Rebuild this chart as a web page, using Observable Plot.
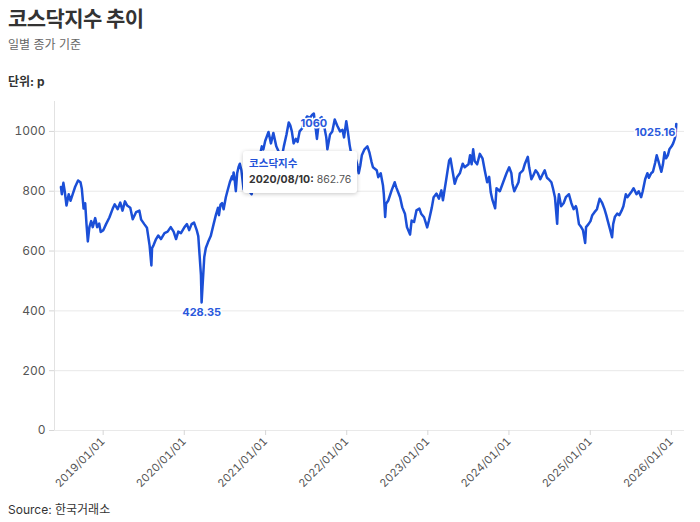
<!DOCTYPE html>
<html>
<head>
<meta charset="utf-8">
<script src="https://cdn.jsdelivr.net/npm/d3@7"></script>
<script src="https://cdn.jsdelivr.net/npm/@observablehq/plot@0.6"></script>
<style>
  html, body { margin: 0; padding: 0; background: #fff; }
  body { width: 700px; height: 522px; overflow: hidden; font-family: Inter, "Noto Sans CJK KR", sans-serif; color: #333; }
  .txt { padding-left: 8px; }
  #title { font-size: 21px; font-weight: 700; line-height: 26px; margin-top: 6px; color: #333; letter-spacing: -0.6px; }
  #subtitle { font-size: 12px; line-height: 16px; margin-top: 5px; color: #666; }
  #unit { font-size: 12px; font-weight: 700; line-height: 16px; margin-top: 21px; color: #333; }
  #chart { position: relative; height: 410px; }
  #source { font-size: 12px; line-height: 16px; margin-top: 2px; color: #333; }
  .tip { position: absolute; background: #fff; border-radius: 3px; box-shadow: 0 1px 4px rgba(0,0,0,0.22); padding: 5px 6px; white-space: nowrap; font-size: 10.5px; line-height: 16px; }
  .tip .name { color: #2251d8; font-weight: 700; }
  .tip .date { color: #333; font-weight: 700; }
  .tip .val { color: #555; }
</style>
</head>
<body>
<div id="title" class="txt">코스닥지수 추이</div>
<div id="subtitle" class="txt">일별 종가 기준</div>
<div id="unit" class="txt">단위: p</div>
<div id="chart"></div>
<div id="source" class="txt">Source: 한국거래소</div>
<script>
const dates = [
"2018-06-25","2018-06-29","2018-07-06","2018-07-12","2018-07-20","2018-07-30","2018-08-07","2018-08-17","2018-08-28","2018-09-10","2018-09-21","2018-09-27","2018-10-05","2018-10-12","2018-10-18","2018-10-24","2018-10-31","2018-11-08","2018-11-15","2018-11-26","2018-12-05","2018-12-14","2018-12-21",
"2019-01-02","2019-01-14","2019-01-29","2019-02-13","2019-02-22","2019-03-07","2019-03-19","2019-03-29","2019-04-09","2019-04-19","2019-05-03","2019-05-14","2019-05-29","2019-06-13","2019-06-21","2019-07-05","2019-07-17","2019-07-29","2019-08-06","2019-08-09","2019-08-16","2019-08-27","2019-09-06","2019-09-18","2019-10-04","2019-10-18","2019-11-01","2019-11-14","2019-11-25","2019-12-05","2019-12-17",
"2020-01-02","2020-01-13","2020-01-23","2020-02-03","2020-02-14","2020-02-26","2020-03-04","2020-03-12","2020-03-16","2020-03-19","2020-03-23","2020-03-31","2020-04-07","2020-04-17","2020-04-29","2020-05-12","2020-05-22","2020-06-01","2020-06-05","2020-06-12","2020-06-19","2020-06-26","2020-07-06","2020-07-13","2020-07-24","2020-08-03","2020-08-07","2020-08-10","2020-08-14","2020-08-20","2020-08-26","2020-09-01","2020-09-07","2020-09-14","2020-09-24","2020-10-05","2020-10-12","2020-10-19","2020-10-30","2020-11-09","2020-11-16","2020-11-24","2020-12-01","2020-12-08","2020-12-15","2020-12-22","2020-12-30",
"2021-01-14","2021-01-25","2021-02-05","2021-02-18","2021-03-02","2021-03-10","2021-03-24","2021-04-05","2021-04-15","2021-04-22","2021-04-29","2021-05-07","2021-05-17","2021-05-25","2021-06-03","2021-06-14","2021-06-24","2021-07-06","2021-07-19","2021-07-29","2021-08-06","2021-08-20","2021-08-30","2021-09-10","2021-09-17","2021-10-01","2021-10-06","2021-10-18","2021-10-28","2021-11-08","2021-11-19","2021-12-02","2021-12-13","2021-12-20","2021-12-30",
"2022-01-06","2022-01-14","2022-01-20","2022-01-27","2022-02-03","2022-02-10","2022-02-17","2022-02-24","2022-03-03","2022-03-10","2022-03-22","2022-04-04","2022-04-13","2022-04-22","2022-04-29","2022-05-16","2022-05-23","2022-06-03","2022-06-13","2022-06-17","2022-06-23","2022-06-27","2022-07-07","2022-07-22","2022-08-05","2022-08-12","2022-08-29","2022-09-08","2022-09-20","2022-09-29","2022-10-13","2022-10-20","2022-10-31","2022-11-11","2022-11-24","2022-12-02","2022-12-15","2022-12-29",
"2023-01-06","2023-01-19","2023-01-27","2023-02-09","2023-02-20","2023-03-03","2023-03-10","2023-03-24","2023-04-07","2023-04-13","2023-04-24","2023-05-02","2023-05-12","2023-05-25","2023-06-07","2023-06-16","2023-07-03","2023-07-10","2023-07-17","2023-07-24","2023-07-31","2023-08-11","2023-08-23","2023-09-04","2023-09-14","2023-09-25","2023-10-04","2023-10-11","2023-10-19","2023-10-31","2023-11-06","2023-11-21","2023-12-06","2023-12-21",
"2024-01-02","2024-01-12","2024-01-17","2024-01-25","2024-02-13","2024-02-19","2024-03-04","2024-03-12","2024-03-26","2024-04-01","2024-04-11","2024-04-18","2024-04-30","2024-05-10","2024-05-21","2024-06-03","2024-06-10","2024-06-20","2024-06-28","2024-07-10","2024-07-17","2024-07-26","2024-08-05","2024-08-09","2024-08-13","2024-08-23","2024-09-03","2024-09-13","2024-09-27","2024-10-08","2024-10-18","2024-10-28","2024-11-01","2024-11-11","2024-11-21","2024-11-29","2024-12-09","2024-12-13","2024-12-24",
"2025-01-02","2025-01-10","2025-01-20","2025-01-31","2025-02-12","2025-02-24","2025-03-06","2025-03-14","2025-03-21","2025-03-31","2025-04-09","2025-04-14","2025-04-22","2025-05-02","2025-05-12","2025-05-22","2025-05-30","2025-06-10","2025-06-17","2025-06-27","2025-07-07","2025-07-15","2025-07-28","2025-08-07","2025-08-18","2025-08-25","2025-09-05","2025-09-15","2025-09-22","2025-10-02","2025-10-10","2025-10-20","2025-10-27","2025-11-04","2025-11-11","2025-11-17","2025-11-24","2025-12-01","2025-12-08","2025-12-16","2025-12-23",
"2026-01-02","2026-01-09","2026-01-16","2026-01-20","2026-01-23"
];
const values = [
814,790,828,800,752,790,768,790,815,836,830,808,742,760,690,632,680,700,680,710,680,692,664,
670,690,712,742,756,740,762,735,766,752,745,706,730,735,705,690,678,618,552,610,620,640,652,640,660,665,680,665,640,665,660,
680,690,670,690,695,670,650,563,520,428.35,480,580,610,630,650,690,720,745,720,755,760,740,780,800,830,850,840,862.76,845,800,860,880,892,870,806,850,870,800,790,830,850,870,890,925,950,940,968,
998,960,995,950,930,895,950,990,1030,1020,1000,960,975,965,1000,1010,1030,1050,1045,1055,1060,975,1040,1048,1035,980,940,990,1000,1040,1020,1000,1005,980,1034,
1000,955,930,856,880,910,890,860,885,920,940,950,930,900,880,870,847,860,820,790,714,758,769,803,830,813,780,746,725,680,655,702,697,736,742,725,713,679,
702,746,780,792,775,803,770,836,903,909,860,825,847,860,892,880,890,920,890,940,900,890,925,910,870,830,848,797,770,743,810,800,830,860,
880,860,825,800,830,860,870,890,915,880,840,850,870,860,840,860,870,845,840,830,810,780,691,760,790,750,760,780,790,760,740,750,740,690,680,670,627,680,690,
700,720,730,740,775,760,740,720,700,672,646,690,715,725,720,735,750,790,780,790,800,810,790,800,780,800,840,860,845,860,865,895,920,900,880,865,890,930,910,920,940,
950,960,975,990,1025.16
];
const xTicks = ["2019-01-01","2020-01-01","2021-01-01","2022-01-01","2023-01-01","2024-01-01","2025-01-01","2026-01-01"];
const yTicks = [0, 200, 400, 600, 800, 1000];
const xDomain = ["2018-05-27", "2026-03-01"];
const yDomain = [0, 1100];
const annoDates = ["2020-03-19", "2021-08-06", "2026-01-23"];
const annoValues = [428.35, 1060, 1025.16];
const annoLabels = ["428.35", "1060", "1025.16"];
const annoAnchors = ["middle", "middle", "end"];
const seriesName = "코스닥지수";
const tipDate = "2020-08-10";
const tipValue = 862.76;

const data = dates.map((d, i) => ({date: new Date(d), value: values[i]}));
const annos = annoDates.map((d, i) => ({date: new Date(d), value: annoValues[i], label: annoLabels[i], anchor: annoAnchors[i]}));

const lineColor = "#1b4fd7";
const plot = Plot.plot({
  width: 700,
  height: 410,
  marginTop: 11,
  marginBottom: 70,
  marginLeft: 54,
  marginRight: 16,
  style: {fontFamily: "Inter, 'Noto Sans CJK KR', sans-serif", fontSize: "12px", color: "#555", background: "#fff"},
  x: {type: "utc", domain: xDomain.map(d => new Date(d)), label: null},
  y: {domain: yDomain, label: null},
  marks: [
    Plot.ruleY(yTicks, {stroke: "#e9e9e9", strokeWidth: 1}),
    Plot.ruleX([new Date(xDomain[0])], {stroke: "#e2e2e2", strokeWidth: 1}),
    Plot.axisY({ticks: yTicks, tickFormat: d => String(d), tickSize: 5, stroke: "#d6d6d6", fill: "#555", fontSize: 12, tickPadding: 4}),
    Plot.axisX({ticks: xTicks.map(d => new Date(d)), tickFormat: d3.utcFormat("%Y/%m/%d"), tickRotate: -45, tickSize: 5, tickPadding: 4, stroke: "#d6d6d6", fill: "#555", fontSize: 11}),
    Plot.lineY(data, {x: "date", y: "value", stroke: lineColor, strokeWidth: 2.5, strokeLinejoin: "round"}),
    Plot.text(annos.filter(a => a.anchor === "middle"), {x: "date", y: "value", text: "label", dy: 10, fill: "#2a59dc", stroke: "#fff", strokeWidth: 3, fontWeight: 700, fontSize: 11, textAnchor: "middle"}),
    Plot.text(annos.filter(a => a.anchor === "end"), {x: "date", y: "value", text: "label", dy: 9, dx: -1, fill: "#2a59dc", stroke: "#fff", strokeWidth: 3, fontWeight: 700, fontSize: 11, textAnchor: "end"})
  ]
});
const chart = document.getElementById("chart");
chart.appendChild(plot);

const px = plot.scale("x").apply(new Date(tipDate));
const py = plot.scale("y").apply(tipValue);
const tip = document.createElement("div");
tip.className = "tip";
tip.innerHTML = `<div class="name">${seriesName}</div><div><span class="date">${d3.utcFormat("%Y/%m/%d")(new Date(tipDate))}:</span> <span class="val">${tipValue}</span></div>`;
chart.appendChild(tip);
tip.style.left = (px + 10) + "px";
tip.style.top = (py - tip.offsetHeight / 2) + "px";
</script>
</body>
</html>
